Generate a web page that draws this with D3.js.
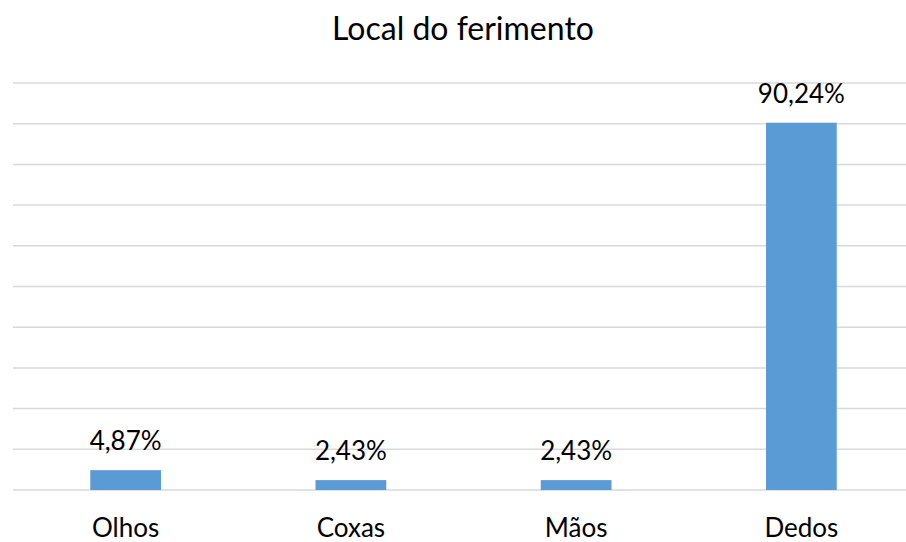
<!DOCTYPE html>
<html>
<head>
<meta charset="utf-8">
<script src="https://cdn.jsdelivr.net/npm/d3@7"></script>
<style>
  body { margin: 0; background: #fff; }
  text { font-family: Lato, "Open Sans", sans-serif; fill: #000; }
</style>
</head>
<body>
<svg id="chart"></svg>
<script>
// chart data
var categories = ['Olhos', 'Coxas', 'Mãos', 'Dedos'];
var values = [4.87, 2.43, 2.43, 90.24];
var yTicks = [0, 10, 20, 30, 40, 50, 60, 70, 80, 90, 100];
var title = 'Local do ferimento';

// layout
var width = 906;
var height = 542;
var plot = {left: 13, right: 914, top: 83, bottom: 490};

var svg = d3.select('#chart')
  .attr('width', width)
  .attr('height', height);

// scales
var x = d3.scaleBand()
  .domain(categories)
  .range([plot.left, plot.right])
  .paddingInner(0.686)
  .paddingOuter(0.343);
var y = d3.scaleLinear()
  .domain([0, 100])
  .range([plot.bottom, plot.top]);

// gridlines
svg.append('g')
  .selectAll('line')
  .data(yTicks)
  .enter()
  .append('line')
  .attr('x1', plot.left)
  .attr('x2', plot.right)
  .attr('y1', function(d) { return y(d); })
  .attr('y2', function(d) { return y(d); })
  .style('stroke', '#d9d9d9')
  .style('stroke-width', 1.5);

// bars
svg.append('g')
  .selectAll('rect')
  .data(values)
  .enter()
  .append('rect')
  .attr('x', function(d, i) { return x(categories[i]); })
  .attr('y', function(d) { return y(d); })
  .attr('width', x.bandwidth())
  .attr('height', function(d) { return y(0) - y(d); })
  .style('fill', '#5b9bd5');

// value labels
var fmt = function(v) { return v.toFixed(2).replace('.', ',') + '%'; };
svg.append('g')
  .selectAll('text')
  .data(values)
  .enter()
  .append('text')
  .attr('x', function(d, i) { return x(categories[i]) + x.bandwidth() / 2; })
  .attr('y', function(d) { return y(d) - 20; })
  .attr('text-anchor', 'middle')
  .style('font-size', '26px')
  .text(fmt);

// category axis labels
svg.append('g')
  .selectAll('text')
  .data(categories)
  .enter()
  .append('text')
  .attr('x', function(d) { return x(d) + x.bandwidth() / 2; })
  .attr('y', 537)
  .attr('text-anchor', 'middle')
  .style('font-size', '26px')
  .text(function(d) { return d; });

// title
svg.append('text')
  .attr('x', 463)
  .attr('y', 40)
  .attr('text-anchor', 'middle')
  .style('font-size', '32px')
  .text(title);
</script>
</body>
</html>
